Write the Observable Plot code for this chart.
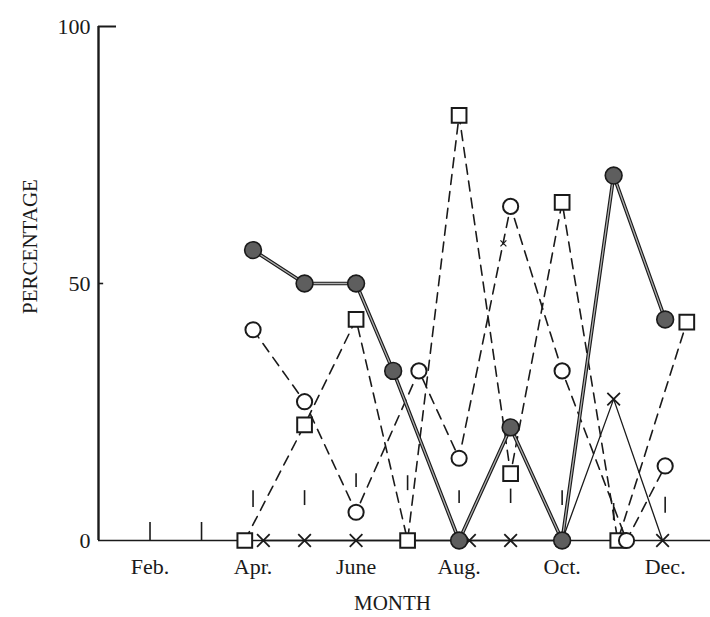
<!DOCTYPE html>
<html>
<head>
<meta charset="utf-8">
<script src="https://cdn.jsdelivr.net/npm/d3@7"></script>
<script src="https://cdn.jsdelivr.net/npm/@observablehq/plot@0.6"></script>
<style>
  html, body { margin: 0; padding: 0; background: #fff; }
  #chart { width: 710px; height: 617px; }
</style>
</head>
<body>
<div id="chart"></div>
<script>
// Month index: Jan = 1 ... Dec = 12 (points slightly offset where symbols overlap in the original)
const monthTickPos   = [2, 4, 6, 8, 10, 12];
const monthTickLabel = ["Feb.", "Apr.", "June", "Aug.", "Oct.", "Dec."];

const yTickValues = [0, 50, 100];
const yTickLabels = ["0", "50", "100"];

// Filled circles (solid double line)
const filledMonth = [4, 5, 6, 6.72, 8, 9, 10, 11, 12];
const filledPct   = [56.5, 50, 50, 33, 0, 22, 0, 71, 43];

// Open circles (dashed line)
const openMonth = [4, 5, 6, 7.22, 8, 9, 10, 11.25, 12];
const openPct   = [41, 27, 5.5, 33, 16, 65, 33, 0, 14.5];

// Squares (dashed line)
const squareMonth = [3.84, 5, 6, 7, 8, 9, 10, 11.08, 12.42];
const squarePct   = [0, 22.5, 43, 0, 82.7, 13, 65.8, 0, 42.5];

// Crosses (thin solid line)
const crossMonth = [4.2, 5, 6, 7, 8.2, 9, 10, 11, 11.95];
const crossPct   = [0, 0, 0, 0, 0, 0, 0, 27.5, 0];

// Small stray cross mark
const strayMonth = [8.86];
const strayPct   = [57.8];

// Short month tick marks (low/high in percentage units as drawn)
const tickMonths = [2, 3, 4, 5, 6, 7, 8, 9, 10, 11, 12];
const tickLow    = [0, 0, 6.4, 6.8, 10.3, 9.7, 7.2, 7.2, 6.8, 3.9, 5.3];
const tickHigh   = [3.5, 3.5, 9.7, 9.7, 13, 12.6, 9.7, 10, 9.7, 7.2, 8.4];

const zip = (xs, ys) => xs.map((x, i) => ({x, y: ys[i]}));
const filled = zip(filledMonth, filledPct);
const opens = zip(openMonth, openPct);
const squares = zip(squareMonth, squarePct);
const crosses = zip(crossMonth, crossPct);
const stray = zip(strayMonth, strayPct);
const ticks = tickMonths.map((m, i) => ({m, lo: tickLow[i], hi: tickHigh[i]}));
const xLabels = monthTickPos.map((m, i) => ({m, label: monthTickLabel[i]}));
const yLabels = yTickValues.map((v, i) => ({v, label: yTickLabels[i]}));

const ink = "#1a1a1a";
const dash = "10,7";

const chart = Plot.plot({
  width: 710,
  height: 617,
  marginLeft: 98,
  marginRight: 0,
  marginTop: 26,
  marginBottom: 77,
  x: {domain: [1, 12.88], axis: null},
  y: {domain: [0, 100], axis: null},
  style: {fontFamily: "'Liberation Serif', 'DejaVu Serif', serif", fontSize: "22px", background: "#fff", color: ink},
  marks: [
    // axes
    Plot.ruleX([1], {y1: 0, y2: 100, stroke: ink, strokeWidth: 2.4}),
    Plot.ruleY([0], {x1: 1, x2: 12.88, stroke: ink, strokeWidth: 1.6}),
    Plot.ruleY([100], {x1: 1, x2: 1.35, stroke: ink, strokeWidth: 2}),
    Plot.ruleY([50], {x1: 1, x2: 1.1, stroke: ink, strokeWidth: 1.6}),
    Plot.ruleX(ticks, {x: "m", y1: "lo", y2: "hi", stroke: ink, strokeWidth: 1.6}),
    // y labels
    Plot.text(yLabels, {x: 1, y: "v", text: "label", textAnchor: "end", dx: -8, fontSize: 22, fill: ink}),
    // x labels
    Plot.text(xLabels, {x: "m", y: 0, text: "label", dy: 26, fontSize: 22, fill: ink, style: "letter-spacing:2px"}),
    // lines
    Plot.line(squares, {x: "x", y: "y", stroke: ink, strokeWidth: 1.6, strokeDasharray: dash}),
    Plot.line(opens, {x: "x", y: "y", stroke: ink, strokeWidth: 1.6, strokeDasharray: dash}),
    Plot.line(crosses, {x: "x", y: "y", stroke: ink, strokeWidth: 1.3}),
    Plot.line(filled, {x: "x", y: "y", stroke: ink, strokeWidth: 3.6}),
    Plot.line(filled, {x: "x", y: "y", stroke: "#b0b0b0", strokeWidth: 1.3}),
    // markers
    Plot.dot(crosses, {x: "x", y: "y", symbol: "times", r: 5.8, stroke: ink, strokeWidth: 1.8}),
    Plot.dot(stray, {x: "x", y: "y", symbol: "times", r: 2.8, stroke: ink, strokeWidth: 1.2}),
    Plot.dot(squares, {x: "x", y: "y", symbol: "square", r: 8.3, fill: "#fff", stroke: ink, strokeWidth: 2}),
    Plot.dot(opens, {x: "x", y: "y", r: 7.6, fill: "#fff", stroke: ink, strokeWidth: 2}),
    Plot.dot(filled, {x: "x", y: "y", r: 8.4, fill: "#5e5e5e", stroke: ink, strokeWidth: 1.6}),
    // axis titles
    Plot.text(["PERCENTAGE"], {frameAnchor: "left", textAnchor: "middle", lineAnchor: "middle", dx: -68, dy: -37, rotate: -90, fontSize: 21, fill: ink, style: "letter-spacing:2.5px"}),
    Plot.text(["MONTH"], {frameAnchor: "bottom", textAnchor: "middle", lineAnchor: "middle", dx: -12, dy: 63, fontSize: 21, fill: ink, style: "letter-spacing:3.5px"})
  ]
});

document.getElementById("chart").appendChild(chart);
</script>
</body>
</html>
